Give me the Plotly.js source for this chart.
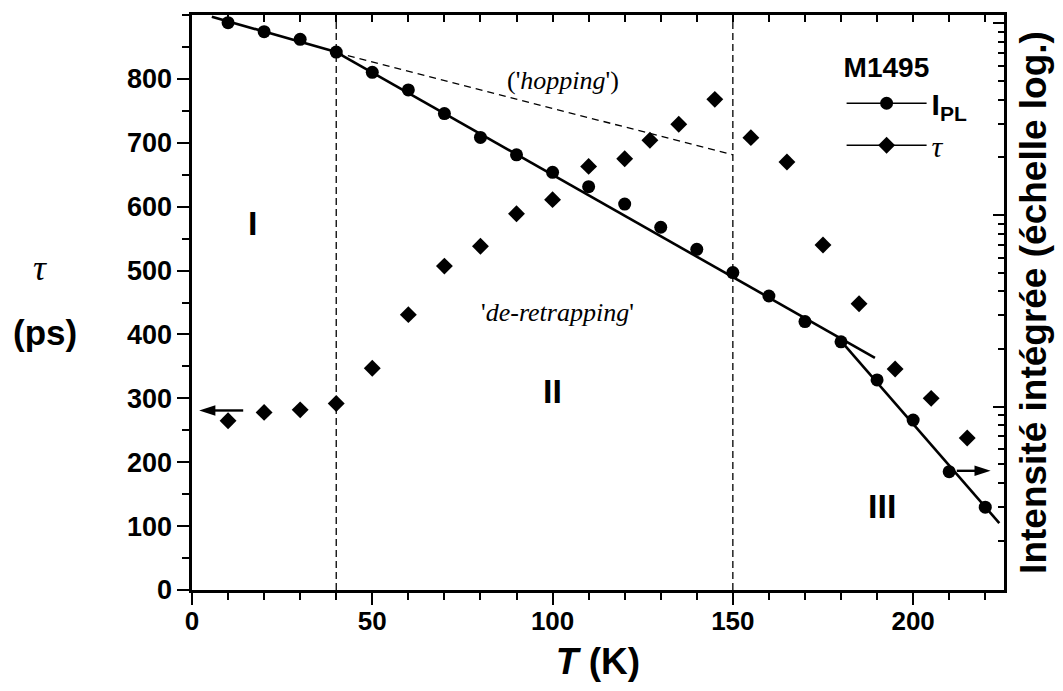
<!DOCTYPE html>
<html><head><meta charset="utf-8">
<script src="https://cdn.plot.ly/plotly-3.0.1.min.js"></script>
<style>html,body{margin:0;padding:0;background:#fff}#chart{width:1063px;height:691px}</style>
</head><body><div id="chart"></div>
<script>
// tau (ps), left axis
const tempTau = [10,20,30,40,50,60,70,80,90,100,110,120,127,135,145,155,165,175,185,195,205,215];
const tauPs   = [265,278,282,292,347,431,507,538,589,611,663,675,704,729,768,708,670,540,448,346,300,238];
// integrated PL intensity (a.u., log scale), right axis
const tempPL = [10,20,30,40,50,60,70,80,90,100,110,120,130,140,150,160,170,180,190,200,210,220];
const intensityPL = [100.7,90.4,82.5,70.8,55.5,44.9,33.8,25.4,20.6,16.7,14.05,11.4,8.63,6.62,5.01,3.78,2.78,2.18,1.38,0.852,0.458,0.299];
// fitted straight lines (log scale)
const fitLowT = [5.5, 40],     fitLowI = [108.2, 70.8];
const fitMidT = [40, 189.4],   fitMidI = [70.8, 1.80];
const fitHighT = [180.2, 223.9], fitHighI = [2.18, 0.247];
const hoppingT = [40, 150],    hoppingI = [70.3, 20.6];
// region boundaries (K)
const regionBoundsT = [40, 150];
// tick labels
const tauTickVals = [0,100,200,300,400,500,600,700,800];
const tempTickVals = [0,50,100,150,200];
// region labels
const regionLabels = ['I','II','III'];
const regionLabelT = [16.9, 99.9, 191.4];
const regionLabelTau = [575, 311, 131];
// axis arrows (tail -> head)
const arrowTauT = [14.2, 2.0], arrowTauY = [281, 281];
const arrowPLT = [212.1, 221.5], arrowPLI = [0.463, 0.463];

const black = '#000';
const sans = 'Liberation Sans, Arial, sans-serif';
const serif = 'Liberation Serif, Times New Roman, serif';

const arrowTrace = (x, y, yaxis) => ({x, y, xaxis:'x', yaxis, mode:'lines+markers',
  line:{color:black, width:2.4}, showlegend:false, hoverinfo:'skip',
  marker:{symbol:['circle','arrow'], size:[0,17], color:black, opacity:1, angleref:'previous', line:{width:0}}});

const traces = [
  {x: fitLowT, y: fitLowI, xaxis:'x', yaxis:'y2', mode:'lines', line:{color:black, width:2.6}, showlegend:false, hoverinfo:'skip'},
  {x: fitMidT, y: fitMidI, xaxis:'x', yaxis:'y2', mode:'lines', line:{color:black, width:2.6}, showlegend:false, hoverinfo:'skip'},
  {x: fitHighT, y: fitHighI, xaxis:'x', yaxis:'y2', mode:'lines', line:{color:black, width:2.6}, showlegend:false, hoverinfo:'skip'},
  {x: hoppingT, y: hoppingI, xaxis:'x', yaxis:'y2', mode:'lines', line:{color:black, width:1.3, dash:'7px,5px'}, showlegend:false, hoverinfo:'skip'},
  arrowTrace(arrowTauT, arrowTauY, 'y'),
  arrowTrace(arrowPLT, arrowPLI, 'y2'),
  {x: tempPL, y: intensityPL, xaxis:'x', yaxis:'y2', mode:'markers', name:'I_PL',
   marker:{symbol:'circle', size:13, color:black}, showlegend:false},
  {x: tempTau, y: tauPs, xaxis:'x', yaxis:'y', mode:'markers', name:'tau',
   marker:{symbol:'diamond', size:13, color:black}, showlegend:false},
  // legend entries
  {x:[null], y:[null], xaxis:'x', yaxis:'y', mode:'lines+markers', name:'I<sub>PL</sub>',
   line:{color:black, width:1.5}, marker:{symbol:'circle', size:13, color:black}},
  {x:[null], y:[null], xaxis:'x', yaxis:'y', mode:'lines+markers',
   name:'<span style="font-family:Liberation Serif;font-style:italic;font-weight:normal">τ</span>',
   line:{color:black, width:1.5}, marker:{symbol:'diamond', size:13, color:black}},
  // top axis carrier
  {x:[null], y:[null], xaxis:'x2', yaxis:'y', mode:'markers', showlegend:false, hoverinfo:'skip'}
];

const shapes = regionBoundsT.map(t => ({
  type:'line', xref:'x', yref:'paper', x0:t, x1:t, y0:0, y1:1,
  line:{color:black, width:1.3, dash:'7px,4px'}
}));

const annotations = [];
regionLabels.forEach((lab, i) => annotations.push({
  text: lab, x: regionLabelT[i], y: regionLabelTau[i], xref:'x', yref:'y', showarrow:false,
  font:{family:sans, size:34, weight:700, color:black}
}));
annotations.push({text:"('<i>hopping</i>')", x:102.8, y:797, xref:'x', yref:'y', showarrow:false,
  font:{family:serif, size:26, color:black}});
annotations.push({text:"'<i>de-retrapping</i>'", x:101.5, y:434, xref:'x', yref:'y', showarrow:false,
  font:{family:serif, size:26, color:black}});
// left axis title, horizontal
annotations.push({text:'τ', xref:'paper', yref:'paper', x:-0.187, y:0.56, xanchor:'center', yanchor:'middle', showarrow:false,
  font:{family:serif, size:36, style:'italic', color:black}});
annotations.push({text:'(ps)', xref:'paper', yref:'paper', x:-0.181, y:0.448, xanchor:'center', yanchor:'middle', showarrow:false,
  font:{family:sans, size:35, weight:700, color:black}});

const layout = {
  width:1063, height:691,
  margin:{l:192, r:59, t:15, b:101},
  paper_bgcolor:'#fff', plot_bgcolor:'#fff',
  font:{family:sans, color:black},
  xaxis:{range:[0,225.2], showgrid:false, zeroline:false, showline:true, linewidth:2.6, linecolor:black,
    ticks:'outside', ticklen:12, tickwidth:2, tickcolor:black, tickmode:'array', tickvals:tempTickVals,
    ticklabelstandoff:-6,
    minor:{dtick:10, tick0:0, ticks:'outside', ticklen:7, tickwidth:2, tickcolor:black, showgrid:false},
    tickfont:{family:sans, size:26, weight:700, color:black},
    title:{text:'<i>T</i> (K)', font:{family:sans, size:37, weight:700, color:black}, standoff:14}},
  xaxis2:{range:[0,225.2], overlaying:'x', side:'top', anchor:'y', showgrid:false, zeroline:false,
    showline:true, linewidth:2.6, linecolor:black, ticks:'inside', ticklen:7, tickwidth:2, tickcolor:black,
    dtick:10, tick0:0, showticklabels:false},
  yaxis:{range:[0,900], showgrid:false, zeroline:false, showline:true, linewidth:2.6, linecolor:black,
    ticks:'outside', ticklen:12, tickwidth:2, tickcolor:black, tickmode:'array', tickvals:tauTickVals,
    minor:{dtick:50, tick0:0, ticks:'outside', ticklen:7, tickwidth:2, tickcolor:black, showgrid:false},
    tickfont:{family:sans, size:27, weight:700, color:black}},
  yaxis2:{type:'log', range:[-0.9562, 2.0433], overlaying:'y', side:'right', anchor:'x',
    showgrid:false, zeroline:false, showline:true, linewidth:2.6, linecolor:black,
    ticks:'inside', ticklen:11, tickwidth:2, tickcolor:black, dtick:1, showticklabels:false,
    minor:{dtick:'D1', ticks:'inside', ticklen:6, tickwidth:2, tickcolor:black, showgrid:false},
    title:{text:'Intensité intégrée (échelle log.)', font:{family:sans, size:37, weight:700, color:black}, standoff:15}},
  showlegend:true,
  legend:{x:0.80, y:0.955, xanchor:'left', yanchor:'top', bgcolor:'rgba(0,0,0,0)',
    font:{family:sans, size:30, weight:700, color:black},
    title:{text:'M1495', font:{family:sans, size:28, weight:700, color:black}},
    itemwidth:80, tracegroupgap:0},
  shapes, annotations
};

Plotly.newPlot('chart', traces, layout, {displayModeBar:false, staticPlot:true});
</script></body></html>
